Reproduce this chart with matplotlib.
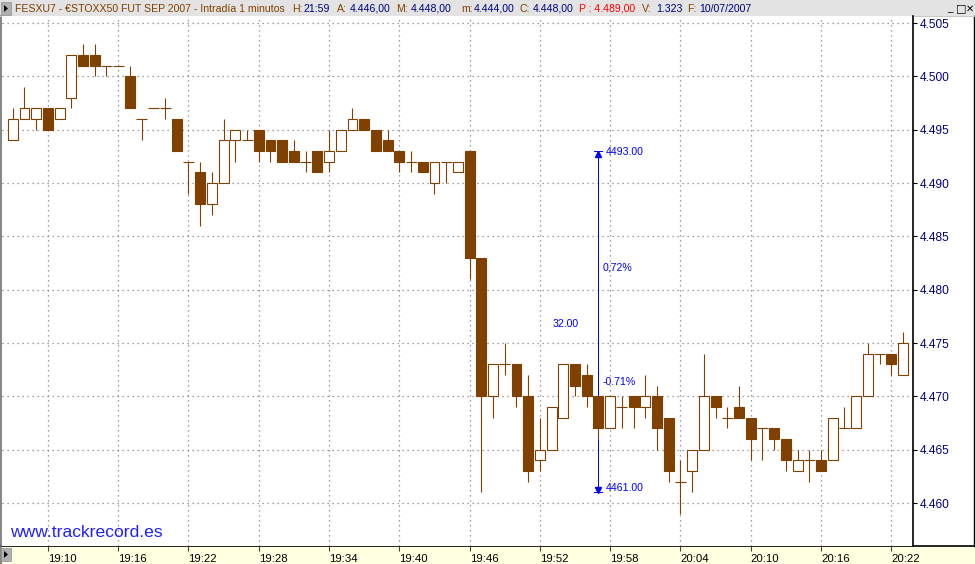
import matplotlib.pyplot as plt
from matplotlib.patches import Rectangle, Polygon
import numpy as np

plt.rcParams['font.family'] = ['Liberation Sans', 'DejaVu Sans']

# 1-minute candles, FESXU7, first candle 19:07
opens  = [4494, 4496, 4496, 4497, 4496, 4498, 4502, 4502, 4501, 4501,
          4500, 4496, 4497, 4497, 4496, 4492, 4491, 4488, 4490, 4494,
          4494, 4495, 4494, 4494, 4493, 4492, 4493, 4492, 4493, 4495,
          4496, 4495, 4494, 4493, 4492, 4492, 4490, 4492, 4491, 4493,
          4483, 4470, 4473, 4473, 4470, 4464, 4465, 4468, 4473, 4472,
          4470, 4467, 4469, 4470, 4469, 4470, 4468, 4462, 4463, 4465,
          4470, 4468, 4469, 4468, 4467, 4467, 4466, 4463, 4464, 4464,
          4464, 4467, 4467, 4470, 4474, 4474, 4472]
highs  = [4497, 4499, 4497, 4497, 4497, 4502, 4503, 4503, 4501, 4501,
          4501, 4496, 4497, 4498, 4496, 4492, 4492, 4491, 4496, 4495,
          4495, 4495, 4494, 4494, 4494, 4493, 4493, 4495, 4495, 4497,
          4496, 4495, 4495, 4493, 4493, 4492, 4492, 4492, 4492, 4493,
          4483, 4473, 4475, 4473, 4472, 4468, 4469, 4473, 4473, 4473,
          4470, 4470, 4470, 4470, 4472, 4471, 4468, 4464, 4465, 4474,
          4470, 4469, 4471, 4468, 4467, 4467, 4466, 4465, 4465, 4465,
          4468, 4469, 4470, 4475, 4474, 4474, 4476]
lows   = [4494, 4496, 4495, 4495, 4496, 4497, 4501, 4500, 4500, 4501,
          4497, 4494, 4497, 4496, 4493, 4489, 4486, 4487, 4490, 4492,
          4494, 4492, 4492, 4492, 4492, 4491, 4491, 4491, 4493, 4495,
          4495, 4493, 4493, 4491, 4491, 4491, 4489, 4490, 4491, 4481,
          4461, 4468, 4472, 4469, 4462, 4463, 4465, 4468, 4470, 4469,
          4466, 4467, 4467, 4467, 4468, 4465, 4462, 4459, 4461, 4465,
          4468, 4467, 4468, 4464, 4464, 4465, 4463, 4463, 4462, 4463,
          4464, 4467, 4467, 4470, 4473, 4472, 4472]
closes = [4496, 4497, 4497, 4495, 4497, 4502, 4501, 4501, 4501, 4501,
          4497, 4496, 4497, 4497, 4493, 4492, 4488, 4490, 4494, 4495,
          4494, 4493, 4493, 4492, 4492, 4492, 4491, 4493, 4495, 4496,
          4495, 4493, 4493, 4492, 4492, 4491, 4492, 4492, 4492, 4483,
          4470, 4473, 4473, 4470, 4463, 4465, 4469, 4473, 4471, 4470,
          4467, 4470, 4469, 4469, 4470, 4467, 4463, 4462, 4465, 4470,
          4469, 4468, 4468, 4466, 4467, 4466, 4464, 4464, 4464, 4463,
          4468, 4467, 4470, 4474, 4474, 4473, 4475]

time_ticks = [3, 9, 15, 21, 27, 33, 39, 45, 51, 57, 63, 69, 75]
time_labels = ['19:10', '19:16', '19:22', '19:28', '19:34', '19:40', '19:46',
               '19:52', '19:58', '20:04', '20:10', '20:16', '20:22']
price_ticks = [4460, 4465, 4470, 4475, 4480, 4485, 4490, 4495, 4500, 4505]

# measuring tool drawn on the chart
meas_x = 49.93
meas_top = 4493.0
meas_bot = 4461.0

header = [(15, 'FESXU7 - €STOXX50 FUT SEP 2007 - Intradía 1 minutos', '#804000'),
          (292, 'H:', '#804000'), (304, '21:59', '#000080'),
          (337, 'A:', '#804000'), (350, '4.446,00', '#000080'),
          (396, 'M:', '#804000'), (411, '4.448,00', '#000080'),
          (461, 'm:', '#804000'), (474, '4.444,00', '#000080'),
          (520, 'C:', '#804000'), (533, '4.448,00', '#000080'),
          (579, 'P : 4.489,00', '#FF0000'),
          (642, 'V:', '#804000'), (656, '1.323', '#000080'),
          (687, 'F:', '#804000'), (699, '10/07/2007', '#000080')]

W, H = 975, 564
brown = '#804000'
px = 0.72  # one pixel in points

def fx(x):
    return x / W

def fy(y):
    return 1 - y / H

fig = plt.figure(figsize=(W / 100, H / 100), dpi=100)

# header bar and bottom band (kept below the axes)
fig.patches.append(Rectangle((0, fy(16)), 1, 16 / H, transform=fig.transFigure,
                             facecolor='#E3E3E3', edgecolor='none', zorder=-2))
fig.patches.append(Rectangle((0, 0), 1, fy(546), transform=fig.transFigure,
                             facecolor='#FFFFE1', edgecolor='none', zorder=-2))
fig.lines.append(plt.Line2D([0, 1], [fy(546), fy(546)], transform=fig.transFigure,
                            color='black', lw=1.2, zorder=-1))
fig.lines.append(plt.Line2D([fx(973.5), fx(973.5)], [fy(16), fy(546)],
                            transform=fig.transFigure, color='black', lw=1, zorder=-1))
fig.lines.append(plt.Line2D([fx(0.5), fx(0.5)], [0, fy(16)],
                            transform=fig.transFigure, color='#707070', lw=1.2, zorder=-1))
fig.lines.append(plt.Line2D([0, 1], [fy(16), fy(16)], transform=fig.transFigure,
                            color='#C8C8C8', lw=0.7, zorder=-1))

# small corner icons
for y0 in (2, 548):
    fig.patches.append(Rectangle((fx(1), fy(y0 + 13)), 10 / W, 13 / H,
                                 transform=fig.transFigure, facecolor='#B0B0B0',
                                 edgecolor='#909090', lw=0.5, zorder=3))
    fig.patches.append(Polygon([[fx(4), fy(y0 + 3)], [fx(4), fy(y0 + 10)], [fx(8), fy(y0 + 6.5)]],
                               closed=True, transform=fig.transFigure,
                               facecolor='black', zorder=4))

for x, s, c in header:
    fig.text(fx(x), fy(8.5), s, color=c, fontsize=7.6, va='center', ha='left')
fig.text(fx(950), fy(8), '_', fontsize=7, va='center', ha='center')
fig.text(fx(961), fy(8.5), '□', fontsize=8, va='center', ha='center',
         family='DejaVu Sans')
fig.text(fx(970), fy(8.5), '✕', fontsize=7, va='center', ha='center',
         family='DejaVu Sans')

# main chart area
ax = fig.add_axes([fx(2), fy(546), fx(913) - fx(2), fy(16) - fy(546)])
ax.set_facecolor('white')

x = np.arange(len(opens))
o = np.array(opens, float)
c = np.array(closes, float)
hi = np.array(highs, float)
lo = np.array(lows, float)
bw = 0.85

top = np.maximum(o, c)
bot = np.minimum(o, c)
up = c > o
down = c < o
flat = c == o

ax.vlines(x, top, hi, color=brown, lw=px * 1.1, zorder=3)
ax.vlines(x, lo, bot, color=brown, lw=px * 1.1, zorder=3)
ax.bar(x[up], (c - o)[up], bottom=o[up], width=bw, facecolor='white',
       edgecolor=brown, lw=px * 1.1, zorder=4)
ax.bar(x[down], (o - c)[down], bottom=c[down], width=bw, facecolor=brown,
       edgecolor=brown, lw=px * 1.1, zorder=4)
ax.hlines(c[flat], x[flat] - bw / 2 - 0.04, x[flat] + bw / 2 + 0.04, color=brown,
          lw=px * 1.1, zorder=4)

# measurement line
blue = '#0000FF'
ax.plot([meas_x, meas_x], [meas_bot, meas_top], color=blue, lw=px, zorder=2)
ax.plot([meas_x - 0.35, meas_x + 0.35], [meas_top, meas_top], color=blue, lw=px, zorder=2)
ax.plot([meas_x - 0.35, meas_x + 0.35], [meas_bot, meas_bot], color=blue, lw=px, zorder=2)
ax.plot([meas_x], [meas_top - 0.25], marker='^', ms=4, color=blue, zorder=2)
ax.plot([meas_x], [meas_bot + 0.25], marker='v', ms=4, color=blue, zorder=2)
mid = (meas_top + meas_bot) / 2
pct_up = (meas_top - meas_bot) / meas_bot * 100
pct_dn = -(meas_top - meas_bot) / meas_top * 100
tkw = dict(color=blue, fontsize=7.6, va='center', textcoords='offset points')
ax.annotate('%.2f' % meas_top, (meas_x, meas_top), xytext=(8 * px, -1 * px), ha='left', **tkw)
ax.annotate('%.2f' % meas_bot, (meas_x, meas_bot), xytext=(8 * px, 4 * px), ha='left', **tkw)
ax.annotate(('%.2f%%' % pct_up).replace('.', ','), (meas_x, mid), xytext=(5 * px, 54 * px),
            ha='left', **tkw)
ax.annotate('%.2f%%' % pct_dn, (meas_x, mid), xytext=(5 * px, -60 * px), ha='left', **tkw)
ax.annotate('%.2f' % (meas_top - meas_bot), (meas_x, mid), xytext=(-45 * px, -2.5 * px),
            ha='left', **tkw)

# watermark
fig.text(fx(10), fy(537), 'www.trackrecord.es', color='#2020FF', fontsize=12.6,
         ha='left', va='baseline')

ax.set_xlim(-0.92, 76.85)
ax.set_ylim(4455.97, 4505.66)

ax.grid(True, color='#808080', linestyle=(0, (1, 3)), lw=0.9)
ax.set_axisbelow(True)
for side in ('left', 'top', 'bottom'):
    ax.spines[side].set_visible(False)
ax.spines['right'].set_color('black')
ax.spines['right'].set_linewidth(1.2)

ax.yaxis.tick_right()
ax.set_yticks(price_ticks)
ax.set_yticklabels(['%d.%03d' % (p // 1000, p % 1000) for p in price_ticks])
ax.tick_params(axis='y', length=4 * px, width=0.8, color='black', pad=2,
               labelcolor='#000080', labelsize=8.6)

ax.set_xticks(time_ticks)
ax.set_xticklabels(time_labels)
ax.tick_params(axis='x', length=5 * px, width=0.8, color='#404040', pad=2.5,
               labelcolor='black', labelsize=8.2)
for lab in ax.get_xticklabels():
    lab.set_horizontalalignment('left')

fig.savefig('out.png', dpi=100)
